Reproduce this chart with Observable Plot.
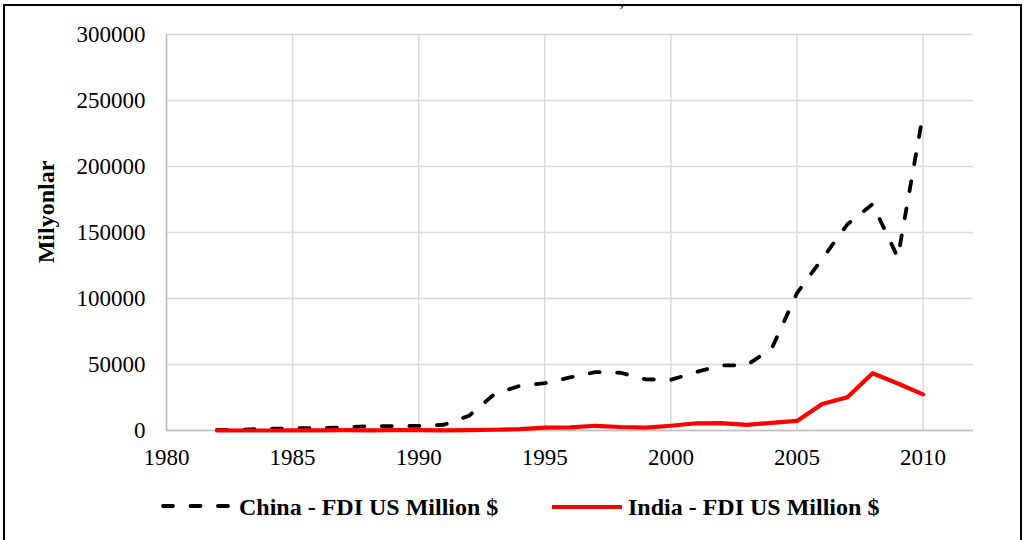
<!DOCTYPE html>
<html>
<head>
<meta charset="utf-8">
<script src="https://cdn.jsdelivr.net/npm/d3@7"></script>
<script src="https://cdn.jsdelivr.net/npm/@observablehq/plot@0.6"></script>
<style>
  html, body { margin: 0; padding: 0; background: #fff; width: 1028px; height: 540px; overflow: hidden; }
  #wrap { position: relative; width: 1028px; height: 540px; font-family: "Liberation Serif", "Times New Roman", serif; }
  #frame { position: absolute; left: 3px; top: 4px; width: 1019px; height: 600px; border: 2px solid #000; box-sizing: border-box; }
  #chart { position: absolute; left: 0; top: 0; }
  #ylabel { position: absolute; left: 46px; top: 212px; transform: translate(-50%, -50%) rotate(-90deg); font-weight: bold; font-size: 24px; white-space: nowrap; }
  #topmark { position: absolute; left: 619px; top: -14px; font-size: 22px; }
  .leg { position: absolute; top: 493px; font-weight: bold; font-size: 24px; white-space: nowrap; line-height: 28px; }
  .sw { position: absolute; top: 497px; }
</style>
</head>
<body>
<div id="wrap">
  <div id="frame"></div>
  <div id="topmark">,</div>
  <div id="chart"></div>
  <div id="ylabel">Milyonlar</div>
  <svg class="sw" style="left:158px" width="80" height="20"><line x1="5" x2="75" y1="9" y2="9" stroke="#000" stroke-width="3.8" stroke-linecap="round" stroke-dasharray="10,17.5"/></svg>
  <div class="leg" style="left:239px">China - FDI US Million $</div>
  <svg class="sw" style="left:548px" width="80" height="20"><line x1="4" x2="74" y1="10" y2="10" stroke="#ff0000" stroke-width="4.2"/></svg>
  <div class="leg" style="left:628px">India - FDI US Million $</div>
</div>
<script>
const years = [1982,1983,1984,1985,1986,1987,1988,1989,1990,1991,1992,1993,1994,1995,1996,1997,1998,1999,2000,2001,2002,2003,2004,2005,2006,2007,2008,2009,2010];
const china = [430,636,1258,1659,1875,2314,3194,3393,3487,4366,11156,27515,33787,35849,40180,44237,43751,38753,38399,44241,49308,49456,62108,104109,130000,156249,171535,131057,240000];
const india = [72,6,19,106,118,212,91,252,237,74,277,550,973,2144,2426,3577,2635,2169,3584,5472,5626,4323,5771,7269,20029,25228,43406,35581,27397];
const xTicks = [1980,1985,1990,1995,2000,2005,2010];
const yTicks = [0,50000,100000,150000,200000,250000,300000];

const chinaData = years.map((y, i) => ({year: y, value: china[i]}));
const indiaData = years.map((y, i) => ({year: y, value: india[i]}));

const plot = Plot.plot({
  width: 1028,
  height: 480,
  marginLeft: 166,
  marginRight: 55,
  marginTop: 34,
  marginBottom: 50,
  style: {background: "transparent", fontFamily: "'Liberation Serif', 'Times New Roman', serif", color: "#000", overflow: "visible"},
  x: {domain: [1980, 2012]},
  y: {domain: [0, 300000]},
  marks: [
    Plot.gridX(xTicks, {stroke: "#d9d9d9", strokeOpacity: 1, strokeWidth: 1.5}),
    Plot.gridY(yTicks, {stroke: "#d9d9d9", strokeOpacity: 1, strokeWidth: 1.5}),
    Plot.ruleX([1980], {stroke: "#bfbfbf", strokeWidth: 1.5}),
    Plot.ruleY([0], {stroke: "#bfbfbf", strokeWidth: 1.5}),
    Plot.axisY(yTicks, {tickSize: 0, tickPadding: 21, tickFormat: d => String(d), fontSize: 23, label: null}),
    Plot.axisX(xTicks, {tickSize: 0, tickPadding: 18, tickFormat: d => String(d), fontSize: 23, label: null}),
    Plot.line(chinaData, {x: "year", y: "value", stroke: "#000", strokeWidth: 3.8, strokeDasharray: "10,17.5", strokeLinecap: "round", strokeLinejoin: "round"}),
    Plot.line(indiaData, {x: "year", y: "value", stroke: "#ff0000", strokeWidth: 4.2, strokeLinejoin: "round"})
  ]
});
document.getElementById("chart").appendChild(plot);
</script>
</body>
</html>
